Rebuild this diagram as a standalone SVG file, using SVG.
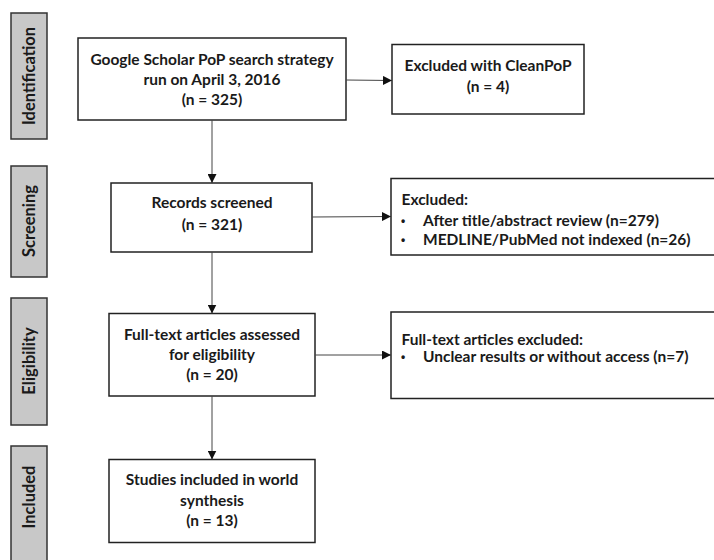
<svg xmlns="http://www.w3.org/2000/svg" width="714" height="560" viewBox="0 0 714 560">
<style>
.box{fill:#fff;stroke:#222;stroke-width:1.5}
.lab{fill:#c8c8c8;stroke:#333;stroke-width:1.5}
text{font-family:Lato,"Liberation Sans",sans-serif;font-weight:bold;font-size:15.5px;fill:#1a1a1a}
.ph{font-size:16.5px}
.c{text-anchor:middle}
.b{font-family:"Liberation Sans",sans-serif;font-size:12px}
.conn{stroke:#444;stroke-width:1;fill:none;marker-end:url(#ah)}
</style>
<defs>
<marker id="ah" viewBox="0 0 10 10" refX="10" refY="5" markerWidth="9" markerHeight="9" markerUnits="userSpaceOnUse" orient="auto">
<path d="M0,0 L10,5 L0,10 z" fill="#111"/>
</marker>
</defs>
<rect width="714" height="560" fill="#fff"/>
<g id="phase-identification"><rect class="lab" x="11" y="13" width="36" height="126"/><text class="c ph" transform="translate(34.5,76) rotate(-90)">Identification</text></g>
<g id="phase-screening"><rect class="lab" x="11" y="166" width="36" height="111"/><text class="c ph" transform="translate(34.5,221) rotate(-90)">Screening</text></g>
<g id="phase-eligibility"><rect class="lab" x="11" y="298" width="36" height="127"/><text class="c ph" transform="translate(34.5,361) rotate(-90)">Eligibility</text></g>
<g id="phase-included"><rect class="lab" x="11" y="446" width="36" height="130"/><text class="c ph" transform="translate(34.5,497) rotate(-90)">Included</text></g>

<g id="search"><rect class="box" x="78" y="38" width="268" height="82"/>
<text class="c" x="212" y="65">Google Scholar PoP search strategy</text>
<text class="c" x="212" y="85">run on April 3, 2016</text>
<text class="c" x="212" y="105">(n = 325)</text></g>

<g id="cleanpop"><rect class="box" x="392" y="44.5" width="192" height="69.5"/>
<text class="c" x="488" y="71">Excluded with CleanPoP</text>
<text class="c" x="488" y="92">(n = 4)</text></g>

<g id="screened"><rect class="box" x="111" y="183" width="201" height="69"/>
<text class="c" x="212" y="208">Records screened</text>
<text class="c" x="212" y="230">(n = 321)</text></g>

<g id="excluded1"><rect class="box" x="391" y="178.5" width="340" height="76.5"/>
<text x="401.5" y="205">Excluded:</text>
<text class="b" x="401" y="225">•</text><text x="423" y="226">After title/abstract review (n=279)</text>
<text class="b" x="401" y="244">•</text><text x="423" y="245">MEDLINE/PubMed not indexed (n=26)</text></g>

<g id="fulltext"><rect class="box" x="109" y="313.5" width="206" height="82.5"/>
<text class="c" x="212" y="340">Full-text articles assessed</text>
<text class="c" x="212" y="360">for eligibility</text>
<text class="c" x="212" y="380">(n = 20)</text></g>

<g id="excluded2"><rect class="box" x="391" y="312" width="340" height="86.5"/>
<text x="401.5" y="345">Full-text articles excluded:</text>
<text class="b" x="401" y="361">•</text><text x="423" y="362">Unclear results or without access (n=7)</text></g>

<g id="included"><rect class="box" x="109" y="459.5" width="206" height="83"/>
<text class="c" x="212" y="485">Studies included in world</text>
<text class="c" x="212" y="506">synthesis</text>
<text class="c" x="212" y="526">(n = 13)</text></g>

<g id="connectors">
<path class="conn" d="M346,80 L392,80.5"/>
<path class="conn" d="M212,120 L212,183"/>
<path class="conn" d="M312,217 L391,216.5"/>
<path class="conn" d="M212,252 L212,313.5"/>
<path class="conn" d="M315,355 L391,355"/>
<path class="conn" d="M212,396 L212,459.5"/>
</g>
</svg>
